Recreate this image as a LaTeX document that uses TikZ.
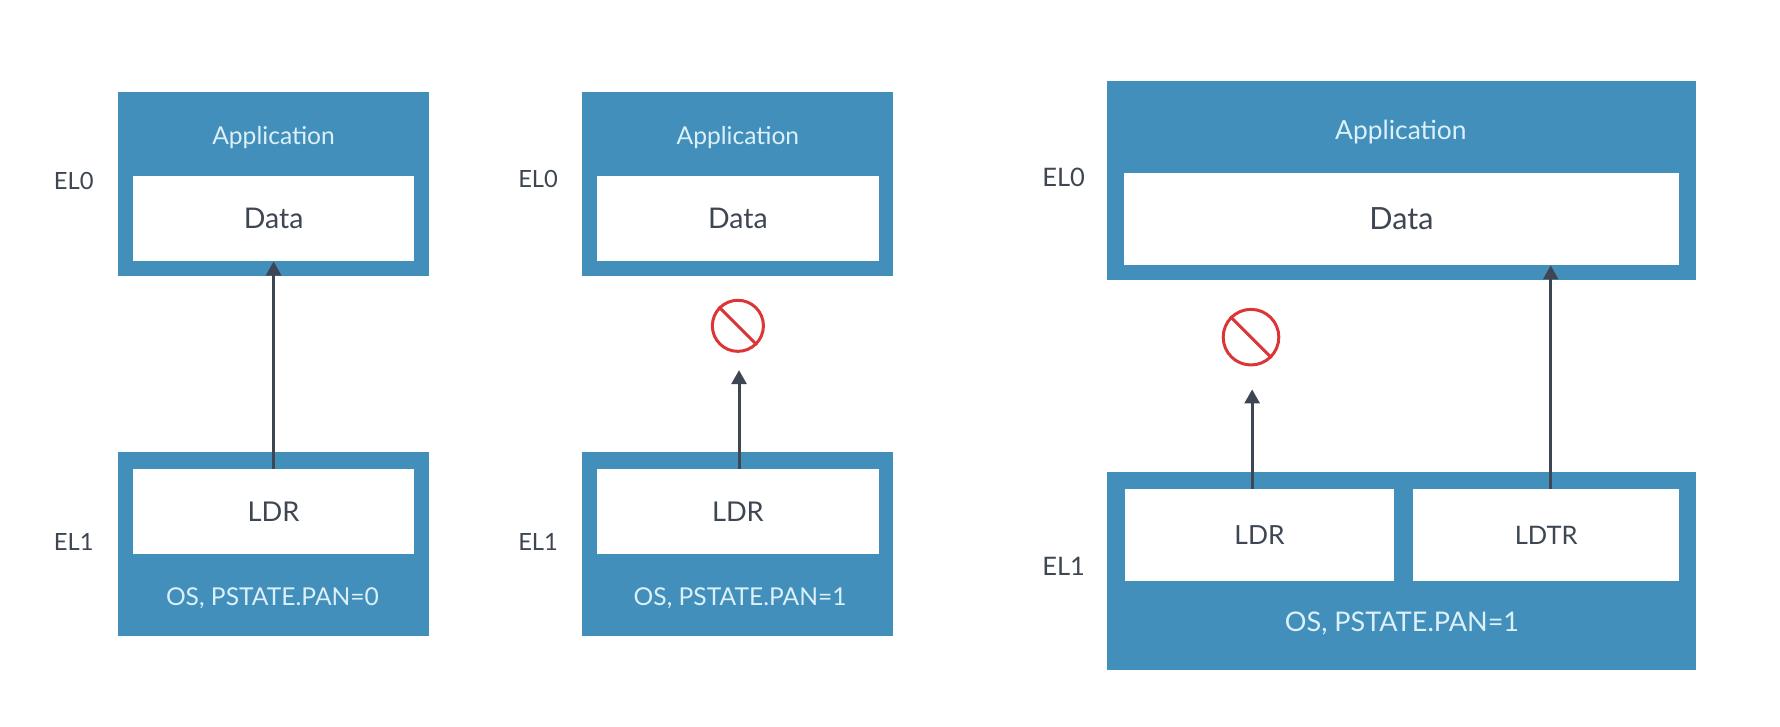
\documentclass[tikz,border=0pt]{standalone}
\usepackage{fontspec}
\setmainfont{Lato}
\usetikzlibrary{arrows.meta}
\definecolor{elblue}{HTML}{418FBA}
\definecolor{elink}{HTML}{3D4652}
\definecolor{ellight}{HTML}{DCF0F9}
\definecolor{elred}{HTML}{DB3535}
\tikzset{
  bluebox/.style 2 args={fill=elblue,inner sep=0pt,minimum width=#1*0.0227cm,minimum height=#2*0.0227cm},
  whitebox/.style 2 args={fill=white,text=elink,inner sep=0pt,minimum width=#1*0.0227cm,minimum height=#2*0.0227cm},
  oncolor/.style={text=ellight,inner sep=0pt},
  ellabel/.style={text=elink,inner sep=0pt},
  access/.style={draw=elink,line width=1.7pt,-{Triangle[length=8pt,width=8.5pt]}},
  banmark/.style={draw=elred,line width=1.7pt,circle,inner sep=0pt,minimum size=#1*0.0227cm},
  banline/.style={draw=elred,line width=1.7pt},
  fsize/.style={font=\fontsize{#1}{#1}\selectfont}
}
\begin{document}
\begin{tikzpicture}[x=0.0227cm,y=-0.0227cm,fsize=14]
\useasboundingbox (0,0) rectangle (1568,639.6);
% first panel
\node[bluebox={274}{162}] (appA) at (241,162) {};
\node[oncolor] (appAtext) at (241,121) {Application};
\node[whitebox={248}{75},fsize=16.2] (dataA) at (241,192.5) {Data};
\node[bluebox={274}{162}] (osA) at (241,479.5) {};
\node[whitebox={248}{75},fsize=15.5] (ldrA) at (241,450.5) {LDR};
\node[oncolor] (osAtext) at (240,527) {OS, PSTATE.PAN=0};
\node[ellabel,fsize=13.5] (elAa) at (65,159) {EL0};
\node[ellabel,fsize=13.5] (elAb) at (65,477) {EL1};
\draw[access] (ldrA.north) -- (dataA.south);
% second panel
\node[bluebox={274}{162}] (appB) at (650,162) {};
\node[oncolor] (appBtext) at (650,121) {Application};
\node[whitebox={248}{75},fsize=16.2] (dataB) at (650,192.5) {Data};
\node[bluebox={274}{162}] (osB) at (650,479.5) {};
\node[whitebox={248}{75},fsize=15.5] (ldrB) at (650,450.5) {LDR};
\node[oncolor] (osBtext) at (652,527) {OS, PSTATE.PAN=1};
\node[ellabel,fsize=13.5] (elBa) at (474,158) {EL0};
\node[ellabel,fsize=13.5] (elBb) at (474,477) {EL1};
\node[banmark=45] (banB) at (650,287) {};
\draw[banline] (banB.135) -- (banB.-45);
\coordinate (startB) at (651,413);
\coordinate (stopB) at (651,326);
\draw[access] (startB) -- (stopB);
% third panel
\node[bluebox={519}{176}] (appC) at (1234.5,159) {};
\node[oncolor,fsize=15] (appCtext) at (1234,116) {Application};
\node[whitebox={489}{81},fsize=17.4] (dataC) at (1234.5,193) {Data};
\node[bluebox={519}{175}] (osC) at (1234.5,503) {};
\node[whitebox={237}{81},fsize=15] (ldrC) at (1109.5,471.5) {LDR};
\node[whitebox={234}{81},fsize=14.5] (ldtrC) at (1362,471.5) {LDTR};
\node[oncolor,fsize=15.4] (osCtext) at (1235,549) {OS, PSTATE.PAN=1};
\node[ellabel,fsize=14.5] (elCa) at (937,156) {EL0};
\node[ellabel,fsize=14.5] (elCb) at (937,499) {EL1};
\node[banmark=49] (banC) at (1102,297) {};
\draw[banline] (banC.135) -- (banC.-45);
\coordinate (stopC) at (1103,343);
\coordinate (startC) at (ldrC.north -| stopC);
\draw[access] (startC) -- (stopC);
\coordinate (startD) at (1366,431);
\coordinate (stopD) at (startD |- dataC.south);
\draw[access] (startD) -- (stopD);
\end{tikzpicture}
\end{document}
